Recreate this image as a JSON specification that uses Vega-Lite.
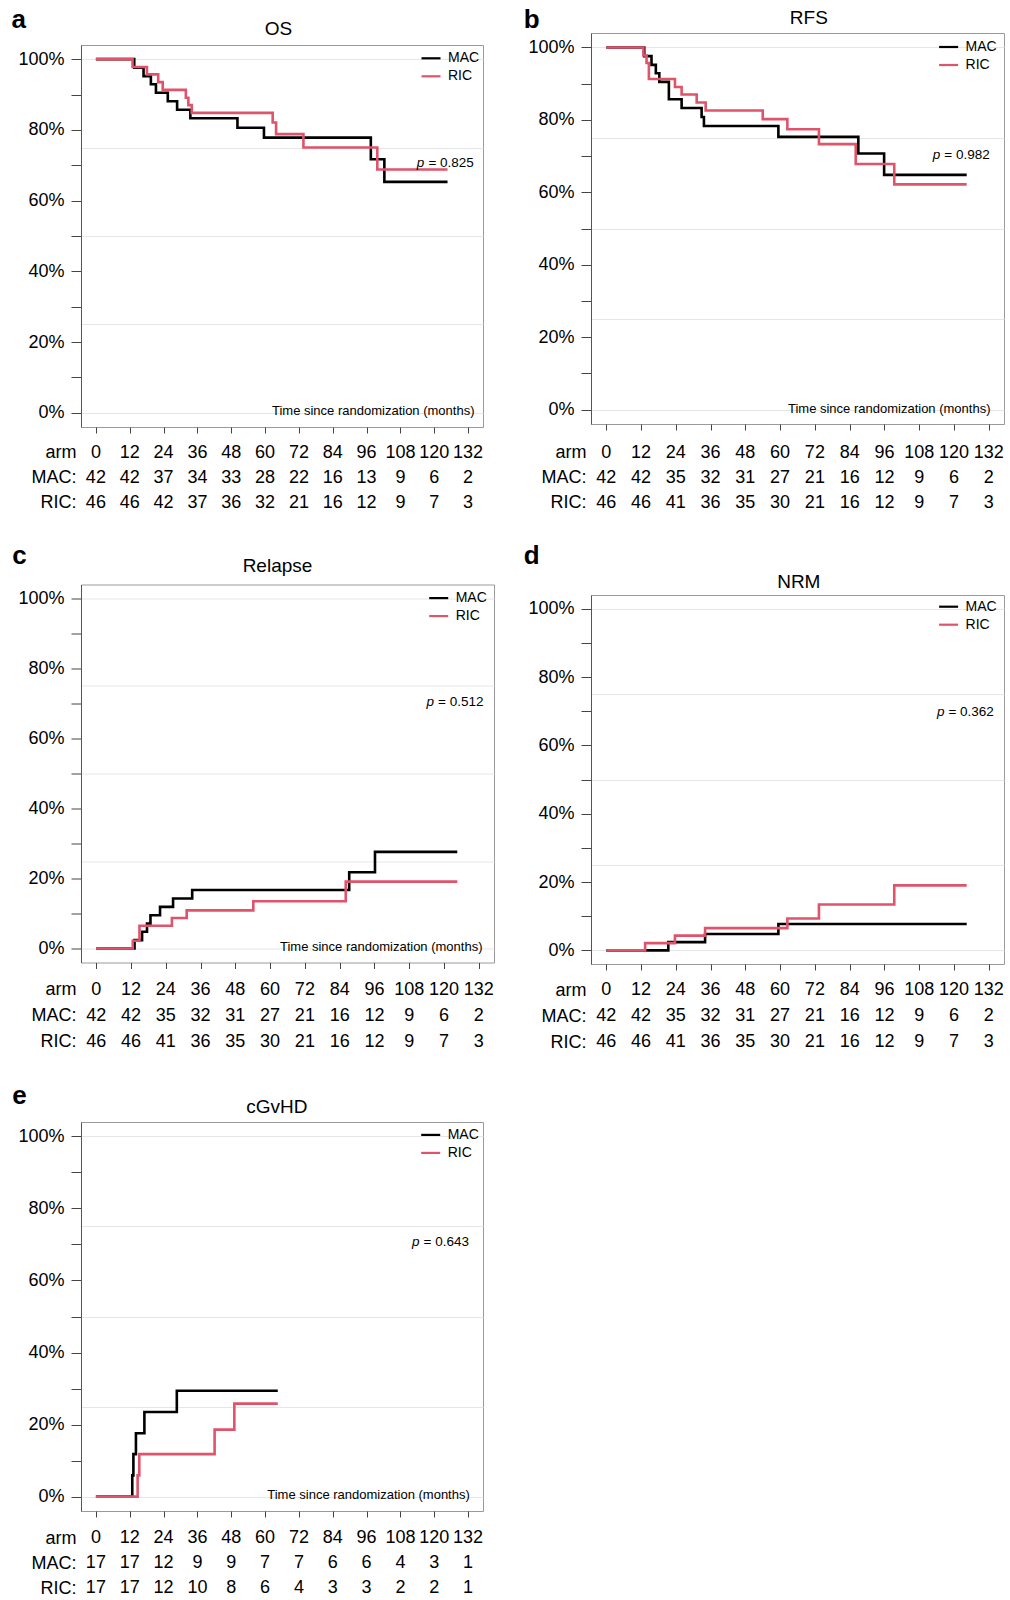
{
"$schema": "https://vega.github.io/schema/vega-lite/v6.json",
"background": "white",
"padding": {"left": 10, "top": 4, "right": 5, "bottom": 0},
"config": {
  "font": "Liberation Sans",
  "view": {"stroke": "#9a9a9a", "strokeWidth": 1},
  "axis": {"labelColor": "#000", "titleColor": "#000", "tickColor": "#444", "domainColor": "#555", "gridColor": "#e6e6e6", "labelFont": "Liberation Sans", "titleFont": "Liberation Sans"},
  "legend": {"symbolType": "stroke", "symbolSize": 361, "symbolStrokeWidth": 2.2, "labelFontSize": 14, "labelOffset": 6, "rowPadding": -7, "padding": 0, "labelColor": "#000"},
  "text": {"color": "#000"}
},
"datasets": {
  "curves": [
    {"p":"a","arm":"MAC","t":0,"s":1},{"p":"a","arm":"MAC","t":13.6,"s":0.976},{"p":"a","arm":"MAC","t":16.9,"s":0.952},{"p":"a","arm":"MAC","t":19.5,"s":0.929},{"p":"a","arm":"MAC","t":21.3,"s":0.905},{"p":"a","arm":"MAC","t":25.5,"s":0.881},{"p":"a","arm":"MAC","t":28.8,"s":0.857},{"p":"a","arm":"MAC","t":33.5,"s":0.833},{"p":"a","arm":"MAC","t":50.2,"s":0.806},{"p":"a","arm":"MAC","t":59.6,"s":0.778},{"p":"a","arm":"MAC","t":97.5,"s":0.717},{"p":"a","arm":"MAC","t":102.3,"s":0.653},{"p":"a","arm":"MAC","t":124.7,"s":0.653},
    {"p":"a","arm":"RIC","t":0,"s":1},{"p":"a","arm":"RIC","t":13.0,"s":0.978},{"p":"a","arm":"RIC","t":18.1,"s":0.957},{"p":"a","arm":"RIC","t":22.1,"s":0.935},{"p":"a","arm":"RIC","t":23.7,"s":0.913},{"p":"a","arm":"RIC","t":31.9,"s":0.891},{"p":"a","arm":"RIC","t":32.8,"s":0.870},{"p":"a","arm":"RIC","t":34.0,"s":0.848},{"p":"a","arm":"RIC","t":62.7,"s":0.821},{"p":"a","arm":"RIC","t":63.9,"s":0.788},{"p":"a","arm":"RIC","t":73.6,"s":0.750},{"p":"a","arm":"RIC","t":99.8,"s":0.688},{"p":"a","arm":"RIC","t":124.7,"s":0.688},
    {"p":"b","arm":"MAC","t":0,"s":1},{"p":"b","arm":"MAC","t":13.1,"s":0.976},{"p":"b","arm":"MAC","t":15.6,"s":0.952},{"p":"b","arm":"MAC","t":17.1,"s":0.929},{"p":"b","arm":"MAC","t":18.3,"s":0.905},{"p":"b","arm":"MAC","t":21.6,"s":0.857},{"p":"b","arm":"MAC","t":26.0,"s":0.833},{"p":"b","arm":"MAC","t":32.9,"s":0.808},{"p":"b","arm":"MAC","t":33.7,"s":0.783},{"p":"b","arm":"MAC","t":59.4,"s":0.753},{"p":"b","arm":"MAC","t":87.0,"s":0.707},{"p":"b","arm":"MAC","t":95.9,"s":0.648},{"p":"b","arm":"MAC","t":124.4,"s":0.648},
    {"p":"b","arm":"RIC","t":0,"s":1},{"p":"b","arm":"RIC","t":12.8,"s":0.978},{"p":"b","arm":"RIC","t":13.9,"s":0.957},{"p":"b","arm":"RIC","t":14.7,"s":0.913},{"p":"b","arm":"RIC","t":23.7,"s":0.891},{"p":"b","arm":"RIC","t":26.0,"s":0.870},{"p":"b","arm":"RIC","t":31.2,"s":0.848},{"p":"b","arm":"RIC","t":34.3,"s":0.826},{"p":"b","arm":"RIC","t":54.0,"s":0.802},{"p":"b","arm":"RIC","t":62.5,"s":0.774},{"p":"b","arm":"RIC","t":73.4,"s":0.733},{"p":"b","arm":"RIC","t":86.1,"s":0.678},{"p":"b","arm":"RIC","t":99.4,"s":0.622},{"p":"b","arm":"RIC","t":124.4,"s":0.622},
    {"p":"c","arm":"MAC","t":0,"s":0},{"p":"c","arm":"MAC","t":13.2,"s":0.024},{"p":"c","arm":"MAC","t":15.8,"s":0.048},{"p":"c","arm":"MAC","t":17.5,"s":0.071},{"p":"c","arm":"MAC","t":18.7,"s":0.095},{"p":"c","arm":"MAC","t":22.0,"s":0.119},{"p":"c","arm":"MAC","t":26.5,"s":0.143},{"p":"c","arm":"MAC","t":33.1,"s":0.167},{"p":"c","arm":"MAC","t":87.3,"s":0.218},{"p":"c","arm":"MAC","t":96.2,"s":0.276},{"p":"c","arm":"MAC","t":124.6,"s":0.276},
    {"p":"c","arm":"RIC","t":0,"s":0},{"p":"c","arm":"RIC","t":12.6,"s":0.022},{"p":"c","arm":"RIC","t":14.9,"s":0.065},{"p":"c","arm":"RIC","t":26.1,"s":0.087},{"p":"c","arm":"RIC","t":31.2,"s":0.109},{"p":"c","arm":"RIC","t":54.2,"s":0.135},{"p":"c","arm":"RIC","t":86.1,"s":0.191},{"p":"c","arm":"RIC","t":124.6,"s":0.191},
    {"p":"d","arm":"MAC","t":0,"s":0},{"p":"d","arm":"MAC","t":21.4,"s":0.024},{"p":"d","arm":"MAC","t":34.1,"s":0.048},{"p":"d","arm":"MAC","t":59.4,"s":0.077},{"p":"d","arm":"MAC","t":124.4,"s":0.077},
    {"p":"d","arm":"RIC","t":0,"s":0},{"p":"d","arm":"RIC","t":13.4,"s":0.021},{"p":"d","arm":"RIC","t":23.7,"s":0.043},{"p":"d","arm":"RIC","t":34.1,"s":0.065},{"p":"d","arm":"RIC","t":62.5,"s":0.093},{"p":"d","arm":"RIC","t":73.4,"s":0.134},{"p":"d","arm":"RIC","t":99.4,"s":0.190},{"p":"d","arm":"RIC","t":124.4,"s":0.190},
    {"p":"e","arm":"MAC","t":0,"s":0},{"p":"e","arm":"MAC","t":12.9,"s":0.059},{"p":"e","arm":"MAC","t":13.3,"s":0.118},{"p":"e","arm":"MAC","t":14.2,"s":0.176},{"p":"e","arm":"MAC","t":17.2,"s":0.235},{"p":"e","arm":"MAC","t":28.7,"s":0.294},{"p":"e","arm":"MAC","t":64.5,"s":0.294},
    {"p":"e","arm":"RIC","t":0,"s":0},{"p":"e","arm":"RIC","t":14.8,"s":0.059},{"p":"e","arm":"RIC","t":15.4,"s":0.118},{"p":"e","arm":"RIC","t":42.1,"s":0.186},{"p":"e","arm":"RIC","t":49.1,"s":0.258},{"p":"e","arm":"RIC","t":64.5,"s":0.258}
  ],
  "risk": [
    {"p":"a","t":0,"MAC":42,"RIC":46},{"p":"a","t":12,"MAC":42,"RIC":46},{"p":"a","t":24,"MAC":37,"RIC":42},{"p":"a","t":36,"MAC":34,"RIC":37},{"p":"a","t":48,"MAC":33,"RIC":36},{"p":"a","t":60,"MAC":28,"RIC":32},{"p":"a","t":72,"MAC":22,"RIC":21},{"p":"a","t":84,"MAC":16,"RIC":16},{"p":"a","t":96,"MAC":13,"RIC":12},{"p":"a","t":108,"MAC":9,"RIC":9},{"p":"a","t":120,"MAC":6,"RIC":7},{"p":"a","t":132,"MAC":2,"RIC":3},
    {"p":"b","t":0,"MAC":42,"RIC":46},{"p":"b","t":12,"MAC":42,"RIC":46},{"p":"b","t":24,"MAC":35,"RIC":41},{"p":"b","t":36,"MAC":32,"RIC":36},{"p":"b","t":48,"MAC":31,"RIC":35},{"p":"b","t":60,"MAC":27,"RIC":30},{"p":"b","t":72,"MAC":21,"RIC":21},{"p":"b","t":84,"MAC":16,"RIC":16},{"p":"b","t":96,"MAC":12,"RIC":12},{"p":"b","t":108,"MAC":9,"RIC":9},{"p":"b","t":120,"MAC":6,"RIC":7},{"p":"b","t":132,"MAC":2,"RIC":3},
    {"p":"c","t":0,"MAC":42,"RIC":46},{"p":"c","t":12,"MAC":42,"RIC":46},{"p":"c","t":24,"MAC":35,"RIC":41},{"p":"c","t":36,"MAC":32,"RIC":36},{"p":"c","t":48,"MAC":31,"RIC":35},{"p":"c","t":60,"MAC":27,"RIC":30},{"p":"c","t":72,"MAC":21,"RIC":21},{"p":"c","t":84,"MAC":16,"RIC":16},{"p":"c","t":96,"MAC":12,"RIC":12},{"p":"c","t":108,"MAC":9,"RIC":9},{"p":"c","t":120,"MAC":6,"RIC":7},{"p":"c","t":132,"MAC":2,"RIC":3},
    {"p":"d","t":0,"MAC":42,"RIC":46},{"p":"d","t":12,"MAC":42,"RIC":46},{"p":"d","t":24,"MAC":35,"RIC":41},{"p":"d","t":36,"MAC":32,"RIC":36},{"p":"d","t":48,"MAC":31,"RIC":35},{"p":"d","t":60,"MAC":27,"RIC":30},{"p":"d","t":72,"MAC":21,"RIC":21},{"p":"d","t":84,"MAC":16,"RIC":16},{"p":"d","t":96,"MAC":12,"RIC":12},{"p":"d","t":108,"MAC":9,"RIC":9},{"p":"d","t":120,"MAC":6,"RIC":7},{"p":"d","t":132,"MAC":2,"RIC":3},
    {"p":"e","t":0,"MAC":17,"RIC":17},{"p":"e","t":12,"MAC":17,"RIC":17},{"p":"e","t":24,"MAC":12,"RIC":12},{"p":"e","t":36,"MAC":9,"RIC":10},{"p":"e","t":48,"MAC":9,"RIC":8},{"p":"e","t":60,"MAC":7,"RIC":6},{"p":"e","t":72,"MAC":7,"RIC":4},{"p":"e","t":84,"MAC":6,"RIC":3},{"p":"e","t":96,"MAC":6,"RIC":3},{"p":"e","t":108,"MAC":4,"RIC":2},{"p":"e","t":120,"MAC":3,"RIC":2},{"p":"e","t":132,"MAC":1,"RIC":1}
  ],
  "pvals": [
    {"p":"a","txt":"= 0.825"},{"p":"b","txt":"= 0.982"},{"p":"c","txt":"= 0.512"},{"p":"d","txt":"= 0.362"},{"p":"e","txt":"= 0.643"}
  ]
},
"spacing": 27,
"resolve": {"scale": {"color": "independent"}},
"hconcat": [
 {
  "spacing": 0,
  "resolve": {"scale": {"color": "independent"}},
  "vconcat": [
   {"width": 1, "height": 1, "view": {"stroke": null}, "data": {"values": []}, "mark": "point"},
   {
    "spacing": 26.5,
    "resolve": {"scale": {"color": "independent"}},
    "vconcat": [
     {
      "spacing": 6,
      "resolve": {"scale": {"color": "independent"}},
      "vconcat": [
       {
        "width": 402, "height": 382,
        "layer": [
         {
          "data": {"name": "curves"}, "transform": [{"filter": "datum.p == 'a'"}],
          "mark": {"type": "line", "interpolate": "step-after", "strokeWidth": 2.6},
          "encoding": {
           "x": {"field": "t", "type": "quantitative", "scale": {"domain": [-5.28, 137.28], "nice": false, "zero": false},
                 "axis": {"orient": "bottom", "values": [0,12,24,36,48,60,72,84,96,108,120,132], "labels": false, "tickSize": 6, "domain": false, "grid": false, "title": "Time since randomization (months)", "titleX": 393, "titleY": -17, "titleAlign": "right", "titleBaseline": "middle", "titleFontSize": 13, "titleFontWeight": "normal"}},
           "y": {"field": "s", "type": "quantitative", "scale": {"domain": [-0.04, 1.04], "nice": false, "zero": false},
                 "axis": {"orient": "left", "values": [0,0.1,0.2,0.3,0.4,0.5,0.6,0.7,0.8,0.9,1], "labelExpr": "round(datum.value * 10) % 2 == 0 ? format(datum.value, '.0%') : ''", "labelOverlap": false, "tickSize": 10, "labelPadding": 7, "labelFontSize": 18, "grid": false, "title": "a", "titleAngle": 0, "titleX": -70, "titleY": -18, "titleAlign": "left", "titleBaseline": "alphabetic", "titleFontSize": 26, "titleFontWeight": "bold"}},
           "color": {"field": "arm", "type": "nominal", "scale": {"domain": ["MAC","RIC"], "range": ["#000000","#DF536B"]}, "legend": {"title": null, "orient": "none", "legendX": 339, "legendY": 2.3}}
          }
         },
         {
          "data": {"name": "pvals"}, "transform": [{"filter": "datum.p == 'a'"}],
          "mark": {"type": "text", "text": "p", "fontStyle": "italic", "align": "right", "baseline": "middle", "dx": -2, "fontSize": 13.5},
          "encoding": {
           "x": {"datum": 117.2, "type": "quantitative", "axis": {"orient": "top", "title": "OS", "labels": false, "ticks": false, "domain": false, "grid": false, "titleX": 197, "titleY": -10.7, "titleAlign": "center", "titleBaseline": "alphabetic", "titleFontSize": 19, "titleFontWeight": "normal"}},
           "y": {"datum": 0.707, "type": "quantitative", "axis": {"orient": "right", "values": [0,0.25,0.5,0.75,1], "grid": true, "labels": false, "ticks": false, "domain": false, "title": null}}
          }
         },
         {
          "data": {"name": "pvals"}, "transform": [{"filter": "datum.p == 'a'"}],
          "mark": {"type": "text", "align": "left", "baseline": "middle", "dx": 2, "fontSize": 13.5},
          "encoding": {"x": {"datum": 117.2, "type": "quantitative", "axis": null}, "y": {"datum": 0.707, "type": "quantitative", "axis": null}, "text": {"field": "txt"}}
         }
        ]
       },
       {
        "width": 402, "height": 75, "view": {"stroke": null},
        "data": {"name": "risk"},
        "transform": [{"filter": "datum.p == 'a'"}, {"fold": ["t","MAC","RIC"], "as": ["row","v"]}],
        "mark": {"type": "text", "fontSize": 18},
        "encoding": {
         "x": {"field": "t", "type": "quantitative", "scale": {"domain": [-5.28, 137.28], "nice": false, "zero": false}, "axis": null},
         "y": {"field": "row", "type": "nominal", "scale": {"type": "point", "domain": ["t","MAC","RIC"], "padding": 0.5}, "axis": {"title": null, "ticks": false, "domain": false, "grid": false, "labelFontSize": 18, "labelPadding": 5, "labelExpr": "datum.value == 't' ? 'arm' : datum.value + ':'"}},
         "text": {"field": "v", "type": "nominal"}
        }
       }
      ]
     },
     {
      "spacing": 7,
      "resolve": {"scale": {"color": "independent"}},
      "vconcat": [
       {
        "width": 413, "height": 378,
        "layer": [
         {
          "data": {"name": "curves"}, "transform": [{"filter": "datum.p == 'c'"}],
          "mark": {"type": "line", "interpolate": "step-after", "strokeWidth": 2.6},
          "encoding": {
           "x": {"field": "t", "type": "quantitative", "scale": {"domain": [-5.28, 137.28], "nice": false, "zero": false},
                 "axis": {"orient": "bottom", "values": [0,12,24,36,48,60,72,84,96,108,120,132], "labels": false, "tickSize": 6, "domain": false, "grid": false, "title": "Time since randomization (months)", "titleX": 401, "titleY": -16, "titleAlign": "right", "titleBaseline": "middle", "titleFontSize": 13, "titleFontWeight": "normal"}},
           "y": {"field": "s", "type": "quantitative", "scale": {"domain": [-0.04, 1.04], "nice": false, "zero": false},
                 "axis": {"orient": "left", "values": [0,0.1,0.2,0.3,0.4,0.5,0.6,0.7,0.8,0.9,1], "labelExpr": "round(datum.value * 10) % 2 == 0 ? format(datum.value, '.0%') : ''", "labelOverlap": false, "tickSize": 10, "labelPadding": 7, "labelFontSize": 18, "grid": false, "title": "c", "titleAngle": 0, "titleX": -69.3, "titleY": -21.3, "titleAlign": "left", "titleBaseline": "alphabetic", "titleFontSize": 26, "titleFontWeight": "bold"}},
           "color": {"field": "arm", "type": "nominal", "scale": {"domain": ["MAC","RIC"], "range": ["#000000","#DF536B"]}, "legend": {"title": null, "orient": "none", "legendX": 346.7, "legendY": 2.6}}
          }
         },
         {
          "data": {"name": "pvals"}, "transform": [{"filter": "datum.p == 'c'"}],
          "mark": {"type": "text", "text": "p", "fontStyle": "italic", "align": "right", "baseline": "middle", "dx": -2, "fontSize": 13.5},
          "encoding": {
           "x": {"datum": 117.3, "type": "quantitative", "axis": {"orient": "top", "title": "Relapse", "labels": false, "ticks": false, "domain": false, "grid": false, "titleX": 196, "titleY": -13.3, "titleAlign": "center", "titleBaseline": "alphabetic", "titleFontSize": 19, "titleFontWeight": "normal"}},
           "y": {"datum": 0.705, "type": "quantitative", "axis": {"orient": "right", "values": [0,0.25,0.5,0.75,1], "grid": true, "labels": false, "ticks": false, "domain": false, "title": null}}
          }
         },
         {
          "data": {"name": "pvals"}, "transform": [{"filter": "datum.p == 'c'"}],
          "mark": {"type": "text", "align": "left", "baseline": "middle", "dx": 2, "fontSize": 13.5},
          "encoding": {"x": {"datum": 117.3, "type": "quantitative", "axis": null}, "y": {"datum": 0.705, "type": "quantitative", "axis": null}, "text": {"field": "txt"}}
         }
        ]
       },
       {
        "width": 413, "height": 78, "view": {"stroke": null},
        "data": {"name": "risk"},
        "transform": [{"filter": "datum.p == 'c'"}, {"fold": ["t","MAC","RIC"], "as": ["row","v"]}],
        "mark": {"type": "text", "fontSize": 18},
        "encoding": {
         "x": {"field": "t", "type": "quantitative", "scale": {"domain": [-5.28, 137.28], "nice": false, "zero": false}, "axis": null},
         "y": {"field": "row", "type": "nominal", "scale": {"type": "point", "domain": ["t","MAC","RIC"], "padding": 0.5}, "axis": {"title": null, "ticks": false, "domain": false, "grid": false, "labelFontSize": 18, "labelPadding": 5, "labelExpr": "datum.value == 't' ? 'arm' : datum.value + ':'"}},
         "text": {"field": "v", "type": "nominal"}
        }
       }
      ]
     },
     {
      "spacing": 10,
      "resolve": {"scale": {"color": "independent"}},
      "vconcat": [
       {
        "width": 402, "height": 389,
        "layer": [
         {
          "data": {"name": "curves"}, "transform": [{"filter": "datum.p == 'e'"}],
          "mark": {"type": "line", "interpolate": "step-after", "strokeWidth": 2.6},
          "encoding": {
           "x": {"field": "t", "type": "quantitative", "scale": {"domain": [-5.28, 137.28], "nice": false, "zero": false},
                 "axis": {"orient": "bottom", "values": [0,12,24,36,48,60,72,84,96,108,120,132], "labels": false, "tickSize": 6, "domain": false, "grid": false, "title": "Time since randomization (months)", "titleX": 388.3, "titleY": -16.7, "titleAlign": "right", "titleBaseline": "middle", "titleFontSize": 13, "titleFontWeight": "normal"}},
           "y": {"field": "s", "type": "quantitative", "scale": {"domain": [-0.04, 1.04], "nice": false, "zero": false},
                 "axis": {"orient": "left", "values": [0,0.1,0.2,0.3,0.4,0.5,0.6,0.7,0.8,0.9,1], "labelExpr": "round(datum.value * 10) % 2 == 0 ? format(datum.value, '.0%') : ''", "labelOverlap": false, "tickSize": 10, "labelPadding": 7, "labelFontSize": 18, "grid": false, "title": "e", "titleAngle": 0, "titleX": -69.3, "titleY": -19, "titleAlign": "left", "titleBaseline": "alphabetic", "titleFontSize": 26, "titleFontWeight": "bold"}},
           "color": {"field": "arm", "type": "nominal", "scale": {"domain": ["MAC","RIC"], "range": ["#000000","#DF536B"]}, "legend": {"title": null, "orient": "none", "legendX": 338.7, "legendY": 1.9}}
          }
         },
         {
          "data": {"name": "pvals"}, "transform": [{"filter": "datum.p == 'e'"}],
          "mark": {"type": "text", "text": "p", "fontStyle": "italic", "align": "right", "baseline": "middle", "dx": -2, "fontSize": 13.5},
          "encoding": {
           "x": {"datum": 115.5, "type": "quantitative", "axis": {"orient": "top", "title": "cGvHD", "labels": false, "ticks": false, "domain": false, "grid": false, "titleX": 195.3, "titleY": -9.7, "titleAlign": "center", "titleBaseline": "alphabetic", "titleFontSize": 19, "titleFontWeight": "normal"}},
           "y": {"datum": 0.706, "type": "quantitative", "axis": {"orient": "right", "values": [0,0.25,0.5,0.75,1], "grid": true, "labels": false, "ticks": false, "domain": false, "title": null}}
          }
         },
         {
          "data": {"name": "pvals"}, "transform": [{"filter": "datum.p == 'e'"}],
          "mark": {"type": "text", "align": "left", "baseline": "middle", "dx": 2, "fontSize": 13.5},
          "encoding": {"x": {"datum": 115.5, "type": "quantitative", "axis": null}, "y": {"datum": 0.706, "type": "quantitative", "axis": null}, "text": {"field": "txt"}}
         }
        ]
       },
       {
        "width": 402, "height": 70, "view": {"stroke": null},
        "data": {"name": "risk"},
        "transform": [{"filter": "datum.p == 'e'"}, {"fold": ["t","MAC","RIC"], "as": ["row","v"]}],
        "mark": {"type": "text", "fontSize": 18},
        "encoding": {
         "x": {"field": "t", "type": "quantitative", "scale": {"domain": [-5.28, 137.28], "nice": false, "zero": false}, "axis": null},
         "y": {"field": "row", "type": "nominal", "scale": {"type": "point", "domain": ["t","MAC","RIC"], "padding": 0.4}, "axis": {"title": null, "ticks": false, "domain": false, "grid": false, "labelFontSize": 18, "labelPadding": 5, "labelExpr": "datum.value == 't' ? 'arm' : datum.value + ':'"}},
         "text": {"field": "v", "type": "nominal"}
        }
       }
      ]
     }
    ]
   }
  ]
 },
 {
  "spacing": 0,
  "resolve": {"scale": {"color": "independent"}},
  "vconcat": [
   {"width": 1, "height": 1, "view": {"stroke": null}, "data": {"values": []}, "mark": "point"},
   {
    "spacing": 26,
    "resolve": {"scale": {"color": "independent"}},
    "vconcat": [
     {
      "spacing": 9,
      "resolve": {"scale": {"color": "independent"}},
      "vconcat": [
       {
        "width": 413, "height": 391,
        "layer": [
         {
          "data": {"name": "curves"}, "transform": [{"filter": "datum.p == 'b'"}],
          "mark": {"type": "line", "interpolate": "step-after", "strokeWidth": 2.6},
          "encoding": {
           "x": {"field": "t", "type": "quantitative", "scale": {"domain": [-5.28, 137.28], "nice": false, "zero": false},
                 "axis": {"orient": "bottom", "values": [0,12,24,36,48,60,72,84,96,108,120,132], "labels": false, "tickSize": 6, "domain": false, "grid": false, "title": "Time since randomization (months)", "titleX": 399, "titleY": -15.5, "titleAlign": "right", "titleBaseline": "middle", "titleFontSize": 13, "titleFontWeight": "normal"}},
           "y": {"field": "s", "type": "quantitative", "scale": {"domain": [-0.04, 1.04], "nice": false, "zero": false},
                 "axis": {"orient": "left", "values": [0,0.1,0.2,0.3,0.4,0.5,0.6,0.7,0.8,0.9,1], "labelExpr": "round(datum.value * 10) % 2 == 0 ? format(datum.value, '.0%') : ''", "labelOverlap": false, "tickSize": 10, "labelPadding": 7, "labelFontSize": 18, "grid": false, "title": "b", "titleAngle": 0, "titleX": -67.7, "titleY": -6, "titleAlign": "left", "titleBaseline": "alphabetic", "titleFontSize": 26, "titleFontWeight": "bold"}},
           "color": {"field": "arm", "type": "nominal", "scale": {"domain": ["MAC","RIC"], "range": ["#000000","#DF536B"]}, "legend": {"title": null, "orient": "none", "legendX": 346.6, "legendY": 3}}
          }
         },
         {
          "data": {"name": "pvals"}, "transform": [{"filter": "datum.p == 'b'"}],
          "mark": {"type": "text", "text": "p", "fontStyle": "italic", "align": "right", "baseline": "middle", "dx": -2, "fontSize": 13.5},
          "encoding": {
           "x": {"datum": 116.0, "type": "quantitative", "axis": {"orient": "top", "title": "RFS", "labels": false, "ticks": false, "domain": false, "grid": false, "titleX": 217.3, "titleY": -9.3, "titleAlign": "center", "titleBaseline": "alphabetic", "titleFontSize": 19, "titleFontWeight": "normal"}},
           "y": {"datum": 0.704, "type": "quantitative", "axis": {"orient": "right", "values": [0,0.25,0.5,0.75,1], "grid": true, "labels": false, "ticks": false, "domain": false, "title": null}}
          }
         },
         {
          "data": {"name": "pvals"}, "transform": [{"filter": "datum.p == 'b'"}],
          "mark": {"type": "text", "align": "left", "baseline": "middle", "dx": 2, "fontSize": 13.5},
          "encoding": {"x": {"datum": 116.0, "type": "quantitative", "axis": null}, "y": {"datum": 0.704, "type": "quantitative", "axis": null}, "text": {"field": "txt"}}
         }
        ]
       },
       {
        "width": 413, "height": 75, "view": {"stroke": null},
        "data": {"name": "risk"},
        "transform": [{"filter": "datum.p == 'b'"}, {"fold": ["t","MAC","RIC"], "as": ["row","v"]}],
        "mark": {"type": "text", "fontSize": 18},
        "encoding": {
         "x": {"field": "t", "type": "quantitative", "scale": {"domain": [-5.28, 137.28], "nice": false, "zero": false}, "axis": null},
         "y": {"field": "row", "type": "nominal", "scale": {"type": "point", "domain": ["t","MAC","RIC"], "padding": 0.5}, "axis": {"title": null, "ticks": false, "domain": false, "grid": false, "labelFontSize": 18, "labelPadding": 5, "labelExpr": "datum.value == 't' ? 'arm' : datum.value + ':'"}},
         "text": {"field": "v", "type": "nominal"}
        }
       }
      ]
     },
     {
      "spacing": 6,
      "resolve": {"scale": {"color": "independent"}},
      "vconcat": [
       {
        "width": 413, "height": 369,
        "layer": [
         {
          "data": {"name": "curves"}, "transform": [{"filter": "datum.p == 'd'"}],
          "mark": {"type": "line", "interpolate": "step-after", "strokeWidth": 2.6},
          "encoding": {
           "x": {"field": "t", "type": "quantitative", "scale": {"domain": [-5.28, 137.28], "nice": false, "zero": false},
                 "axis": {"orient": "bottom", "values": [0,12,24,36,48,60,72,84,96,108,120,132], "labels": false, "tickSize": 6, "domain": false, "grid": false, "title": null}},
           "y": {"field": "s", "type": "quantitative", "scale": {"domain": [-0.04, 1.04], "nice": false, "zero": false},
                 "axis": {"orient": "left", "values": [0,0.1,0.2,0.3,0.4,0.5,0.6,0.7,0.8,0.9,1], "labelExpr": "round(datum.value * 10) % 2 == 0 ? format(datum.value, '.0%') : ''", "labelOverlap": false, "tickSize": 10, "labelPadding": 7, "labelFontSize": 18, "grid": false, "title": "d", "titleAngle": 0, "titleX": -67.7, "titleY": -31.6, "titleAlign": "left", "titleBaseline": "alphabetic", "titleFontSize": 26, "titleFontWeight": "bold"}},
           "color": {"field": "arm", "type": "nominal", "scale": {"domain": ["MAC","RIC"], "range": ["#000000","#DF536B"]}, "legend": {"title": null, "orient": "none", "legendX": 346.6, "legendY": 0.7}}
          }
         },
         {
          "data": {"name": "pvals"}, "transform": [{"filter": "datum.p == 'd'"}],
          "mark": {"type": "text", "text": "p", "fontStyle": "italic", "align": "right", "baseline": "middle", "dx": -2, "fontSize": 13.5},
          "encoding": {
           "x": {"datum": 117.4, "type": "quantitative", "axis": {"orient": "top", "title": "NRM", "labels": false, "ticks": false, "domain": false, "grid": false, "titleX": 207.3, "titleY": -7.6, "titleAlign": "center", "titleBaseline": "alphabetic", "titleFontSize": 19, "titleFontWeight": "normal"}},
           "y": {"datum": 0.699, "type": "quantitative", "axis": {"orient": "right", "values": [0,0.25,0.5,0.75,1], "grid": true, "labels": false, "ticks": false, "domain": false, "title": null}}
          }
         },
         {
          "data": {"name": "pvals"}, "transform": [{"filter": "datum.p == 'd'"}],
          "mark": {"type": "text", "align": "left", "baseline": "middle", "dx": 2, "fontSize": 13.5},
          "encoding": {"x": {"datum": 117.4, "type": "quantitative", "axis": null}, "y": {"datum": 0.699, "type": "quantitative", "axis": null}, "text": {"field": "txt"}}
         }
        ]
       },
       {
        "width": 413, "height": 78, "view": {"stroke": null},
        "data": {"name": "risk"},
        "transform": [{"filter": "datum.p == 'd'"}, {"fold": ["t","MAC","RIC"], "as": ["row","v"]}],
        "mark": {"type": "text", "fontSize": 18},
        "encoding": {
         "x": {"field": "t", "type": "quantitative", "scale": {"domain": [-5.28, 137.28], "nice": false, "zero": false}, "axis": null},
         "y": {"field": "row", "type": "nominal", "scale": {"type": "point", "domain": ["t","MAC","RIC"], "padding": 0.5}, "axis": {"title": null, "ticks": false, "domain": false, "grid": false, "labelFontSize": 18, "labelPadding": 5, "labelExpr": "datum.value == 't' ? 'arm' : datum.value + ':'"}},
         "text": {"field": "v", "type": "nominal"}
        }
       }
      ]
     }
    ]
   }
  ]
 }
]
}
